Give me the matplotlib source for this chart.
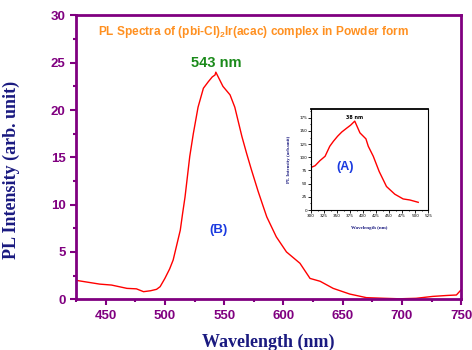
import matplotlib
matplotlib.use("Agg")
import matplotlib.pyplot as plt
from matplotlib.ticker import MultipleLocator

plt.rcParams["mathtext.fontset"] = "custom"
plt.rcParams["mathtext.rm"] = "Liberation Sans:bold"
plt.rcParams["mathtext.default"] = "rm"

# main spectrum (B)
wl = [425, 435, 445, 455, 468, 476, 482, 488, 493, 496, 500, 504, 507, 509, 513, 515,
      517, 521, 524, 528, 532.5, 536.7, 540, 542.3, 543, 545, 549, 555, 559, 565, 569,
      573, 578.7, 583, 586, 594, 602.6, 614, 622.5, 631, 642, 656, 670, 685, 698, 712,
      726, 738, 746, 750]
pl = [2.0, 1.8, 1.6, 1.5, 1.15, 1.1, 0.8, 0.9, 1.05, 1.33, 2.2, 3.2, 4.15, 5.2, 7.3, 9.1,
      10.8, 15.1, 17.5, 20.3, 22.3, 23.0, 23.5, 23.7, 24.0, 23.5, 22.5, 21.6, 20.3, 17.2, 15.4,
      13.7, 11.4, 9.8, 8.7, 6.6, 5.0, 3.8, 2.2, 1.9, 1.15, 0.55, 0.17, 0.1, 0.05, 0.1,
      0.3, 0.4, 0.45, 1.0]

# inset spectrum (A)
wl_a = [300, 307.7, 317, 327, 336, 343, 351, 359, 368, 376, 384, 394, 405.5, 410, 419.6,
        431, 445, 461, 477, 490, 506]
pl_a = [80.8, 84, 93.6, 102, 121, 130.5, 140, 148, 155, 161, 168.7, 146.4, 135, 121, 102,
        73, 44.6, 30, 21, 19, 14.6]

purple = "#800080"
navy = "#1a1a80"

fig = plt.figure(figsize=(4.72, 3.5), dpi=100)
ax = fig.add_axes([0.161, 0.145, 0.816, 0.811])
ax.plot(wl, pl, color="red", lw=1.0)
ax.set_xlim(425, 750)
ax.set_ylim(0, 30)
ax.xaxis.set_major_locator(MultipleLocator(50))
ax.xaxis.set_minor_locator(MultipleLocator(25))
ax.yaxis.set_major_locator(MultipleLocator(5))
ax.yaxis.set_minor_locator(MultipleLocator(2.5))
for s in ax.spines.values():
    s.set_color(purple)
    s.set_linewidth(2)
ax.tick_params(which="both", colors=purple, width=1.5, direction="out")
ax.tick_params(which="major", length=4, labelsize=9.5)
ax.tick_params(which="minor", length=2.5)
for lab in ax.get_xticklabels() + ax.get_yticklabels():
    lab.set_fontweight("bold")
    lab.set_fontfamily("Liberation Sans")
ax.set_xlabel("Wavelength (nm)", family="Liberation Serif", fontweight="bold",
              fontsize=13, color=navy, labelpad=9)
ax.set_ylabel("PL Intensity (arb. unit)", family="Liberation Serif", fontweight="bold",
              fontsize=13, color=navy, labelpad=11)
ax.yaxis.set_label_coords(-0.145, 0.455)

ax.text(0.057, 0.94, "PL Spectra of (pbi-Cl)$_2$Ir(acac) complex in Powder form",
        transform=ax.transAxes, color="#ff9020", fontsize=8.6, fontweight="bold",
        family="Liberation Sans", va="center")
ax.text(543, 24.95, "543 nm", color="#1a8a1a", fontsize=10.5, fontweight="bold",
        family="Liberation Sans", ha="center", va="center")
ax.text(545, 7.3, "(B)", color="#1a3ae0", fontsize=9.5, fontweight="bold",
        family="Liberation Sans", ha="center", va="center")

# inset
ins = fig.add_axes([0.659, 0.40, 0.248, 0.289])
ins.plot(wl_a, pl_a, color="red", lw=1.0)
ins.set_xlim(300, 525)
ins.set_ylim(0, 192)
ins.xaxis.set_major_locator(MultipleLocator(25))
ins.yaxis.set_major_locator(MultipleLocator(25))
ins.xaxis.set_minor_locator(MultipleLocator(12.5))
ins.yaxis.set_minor_locator(MultipleLocator(12.5))
for s in ins.spines.values():
    s.set_linewidth(0.8)
ins.spines["top"].set_linewidth(1.3)
ins.tick_params(which="both", direction="out", labelsize=3, width=0.6, pad=1)
ins.tick_params(which="major", length=2)
ins.tick_params(which="minor", length=1)
ins.set_xlabel("Wavelength (nm)", family="Liberation Serif", fontweight="bold",
               fontsize=3.5, color=navy, labelpad=6)
ins.set_ylabel("PL Intensity (arb.unit)", family="Liberation Serif", fontweight="bold",
               fontsize=3.5, color=navy, labelpad=6)
ins.text(384, 171, "38 nm", fontsize=3.5, fontweight="bold", ha="center", va="bottom")
ins.text(0.29, 0.43, "(A)", transform=ins.transAxes, color="#1a3ae0", fontsize=9,
         fontweight="bold", family="Liberation Sans", ha="center", va="center")

fig.savefig("out.png", dpi=100)
